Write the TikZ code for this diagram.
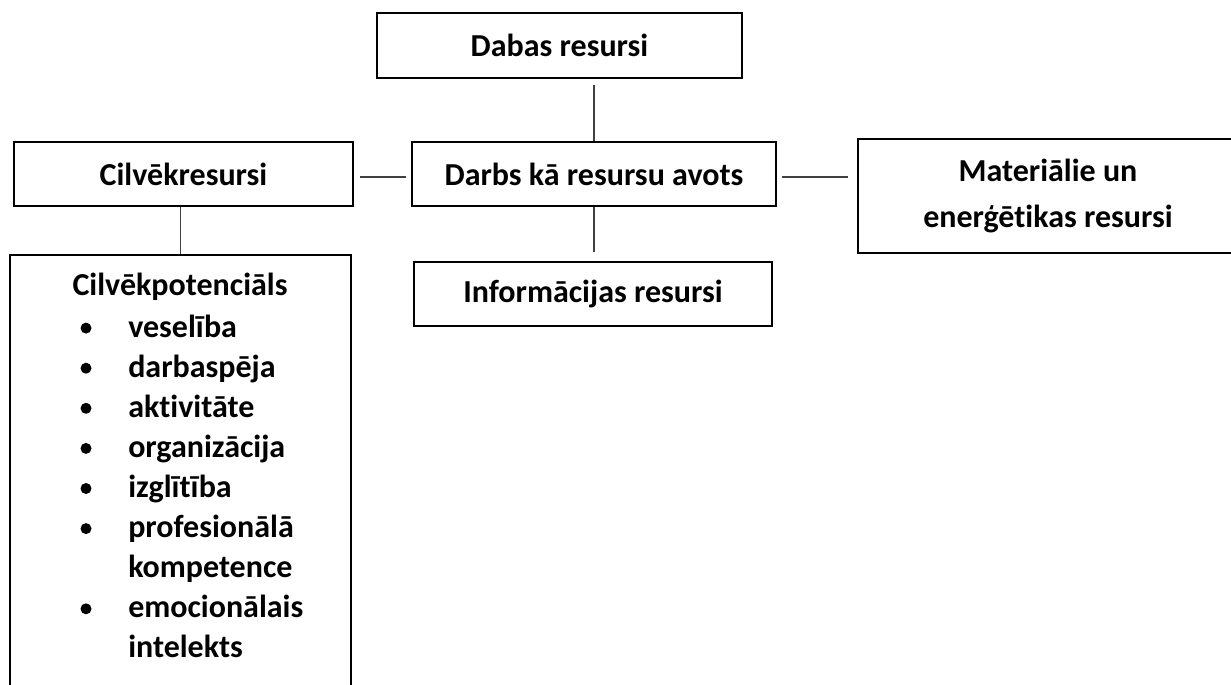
\documentclass[tikz,border=0pt]{standalone}
\usepackage{fontspec}
\setmainfont[Ligatures=NoCommon]{Carlito}
\usetikzlibrary{calc}

\tikzset{
  resbox/.style={draw, line width=1.5pt, font=\fontsize{24pt}{34pt}\selectfont\bfseries,
    align=center, inner sep=0pt},
  link/.style={line width=0.8pt, black!75},
  listtext/.style={anchor=base west, inner sep=0pt, font=\fontsize{24pt}{30pt}\selectfont\bfseries},
  listdot/.style={circle, fill, inner sep=0pt, minimum size=11*0.75pt}
}

\begin{document}
\begin{tikzpicture}[x=0.75pt, y=-0.75pt]
  \useasboundingbox (0,0) rectangle (1231,685);
  \path[clip] (0,0) rectangle (1231,685);

  \node[resbox, minimum width=365*0.75pt, minimum height=65*0.75pt] (dabas) at (559.5,45.5) {Dabas resursi};
  \node[resbox, minimum width=339*0.75pt, minimum height=64*0.75pt] (cilv) at (183.5,174) {Cilvēkresursi};
  \node[resbox, minimum width=364*0.75pt, minimum height=64*0.75pt] (darbs) at (594,174) {Darbs kā resursu avots};
  \node[resbox, minimum width=380*0.75pt, minimum height=114*0.75pt] (mater) at (1048,196)
    {Materiālie un\\enerģētikas resursi};
  \node[resbox, minimum width=358*0.75pt, minimum height=64*0.75pt] (info) at (593,294) {Informācijas resursi};
  \node[resbox, minimum width=341*0.75pt, minimum height=480*0.75pt, anchor=north] (potenc) at (180.5,254) {};

  % links between the boxes
  \draw[link, shorten <=6*0.75pt] (darbs.north |- dabas.south) -- (darbs.north);
  \draw[link, shorten <=6*0.75pt, shorten >=5*0.75pt] ($(cilv.east)+(0,3)$) -- ($(darbs.west)+(0,3)$);
  \draw[link, shorten <=5*0.75pt, shorten >=9*0.75pt] ($(darbs.east)+(0,3)$) -- ($(darbs.east -| mater.west)+(0,3)$);
  \draw[link, shorten >=9*0.75pt] (darbs.south) -- (darbs.south |- info.north);
  \draw[link] (cilv.south -| potenc.north) -- (potenc.north);

  % list inside the box
  \node[listtext, anchor=base] (potname) at (180,295) {Cilvēkpotenciāls};
  \foreach \txt [count=\i] in {veselība, darbaspēja, aktivitāte, organizācija, izglītība,
      profesionālā, kompetence, emocionālais, intelekts} {
    \node[listtext] (item\i) at (128, 297+40.1*\i) {\txt};
  }
  \foreach \i in {1,...,6,8} {
    \node[listdot] (dot\i) at (86, 288+40.1*\i) {};
  }
\end{tikzpicture}
\end{document}
